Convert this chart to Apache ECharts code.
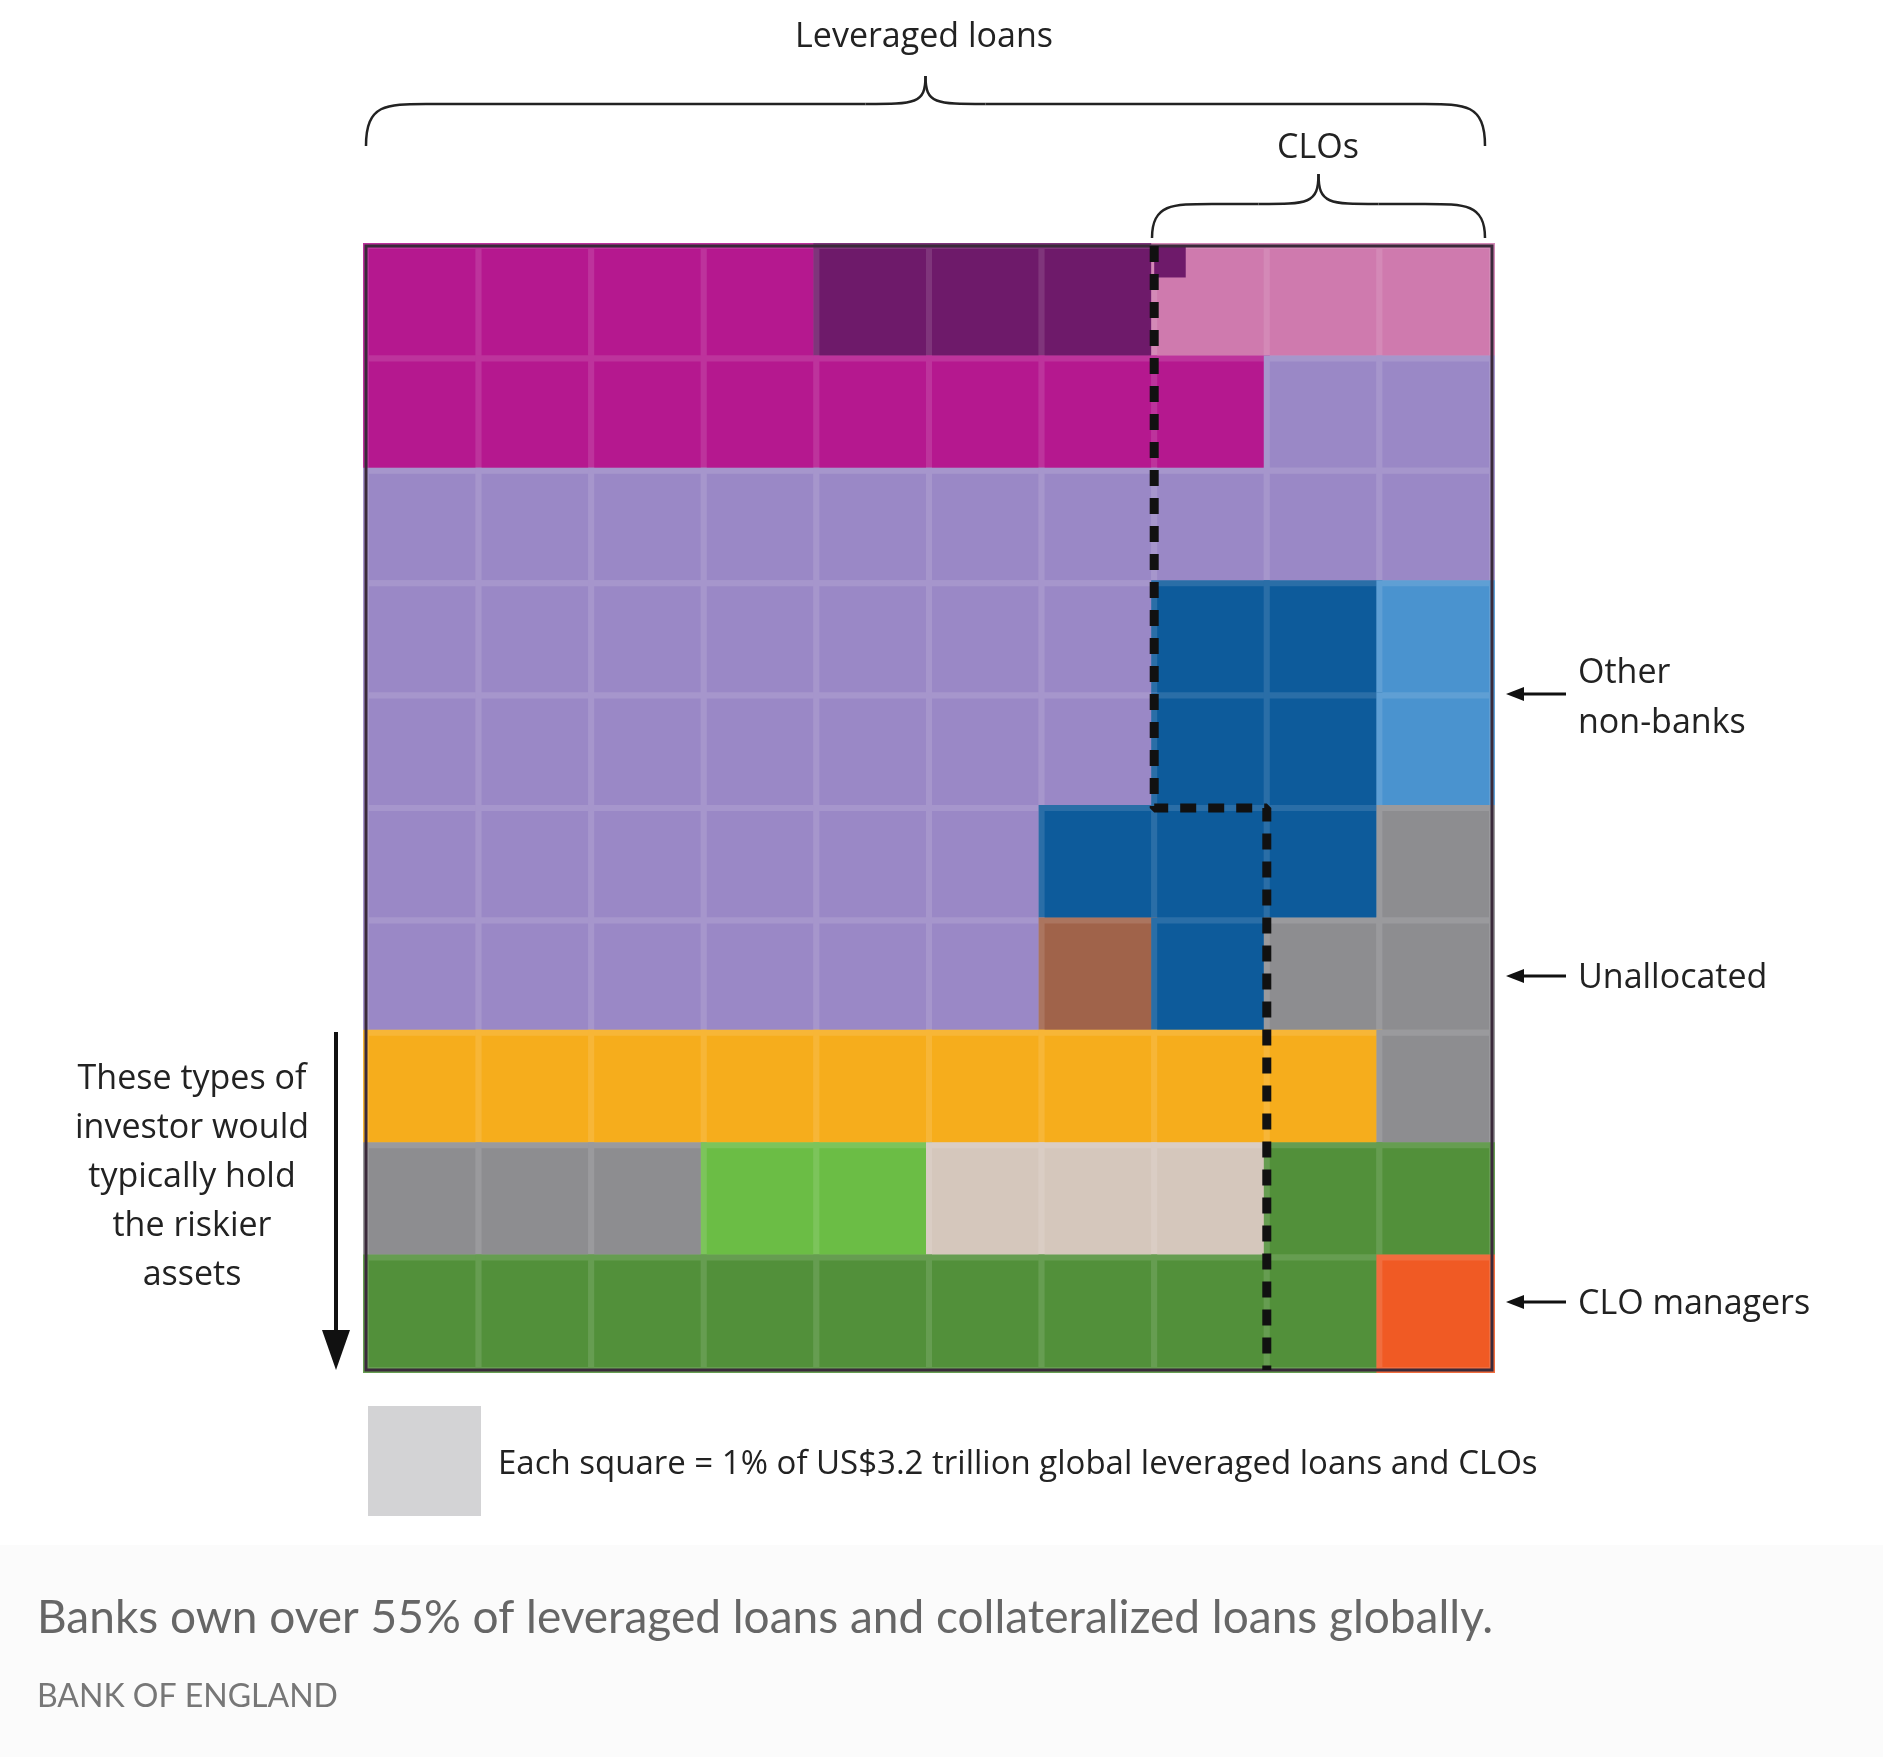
<!DOCTYPE html>
<html><head><meta charset="utf-8">
<script src="https://cdn.jsdelivr.net/npm/echarts@6/dist/echarts.min.js"></script>
<style>html,body{margin:0;padding:0;background:#fff}#c{width:1883px;height:1757px}</style>
</head><body><div id="c"></div>
<script>
// Groups and colours
const groups = {
  eu:'#b5188f', uk:'#6e1a6a', jp:'#cf7aae', us:'#9a88c6', ins:'#0d5b9b', onb:'#4a93cf',
  un:'#8d8d90', etf:'#a0634a', oef:'#f6ad1c', sma:'#6bbd45', cef:'#d5c7bc', hf:'#52903a', clo:'#f05a24'
};
// Grid rows (top to bottom), 10 cells each, each cell = 1%
const rows = [
  ['eu','eu','eu','eu','uk','uk','uk','jp','jp','jp'],
  ['eu','eu','eu','eu','eu','eu','eu','eu','us','us'],
  ['us','us','us','us','us','us','us','us','us','us'],
  ['us','us','us','us','us','us','us','ins','ins','onb'],
  ['us','us','us','us','us','us','us','ins','ins','onb'],
  ['us','us','us','us','us','us','ins','ins','ins','un'],
  ['us','us','us','us','us','us','etf','ins','un','un'],
  ['oef','oef','oef','oef','oef','oef','oef','oef','oef','un'],
  ['un','un','un','sma','sma','cef','cef','cef','hf','hf'],
  ['hf','hf','hf','hf','hf','hf','hf','hf','hf','clo']
];
const partialCells = [[7,0,'uk',0.28]];
const labels = [
  ['European banks',2.45,1.04],['UK banks',5.5,0.48],['Japanese\nbanks',8.45,0.5],
  ['US and other\nglobal banks',8.5,2.4],['US and other global banks',3.0,4.4],
  ['Insurers',8.0,3.97],['Insurers',6.95,5.53],['ETFs',6.46,6.48],
  ['Open-ended funds',4.1,7.5],['Unallocated',1.5,8.47],['SMAs',4.0,8.47],
  ['Closed-ended\nfunds',6.48,8.45],['Hedge funds',4.04,9.43]
];
const cloBoundary = [[7,0],[7,5],[8,5],[8,10]];

const cells = [];
rows.forEach((r,ri)=>r.forEach((g,ci)=>cells.push([ci,ri,g,1])));
partialCells.forEach(p=>cells.push(p));

const chart = echarts.init(document.getElementById('c'));
const GL=366, GT=246, GW=1126, GH=1124;
const st={fill:'none',stroke:'#222',lineWidth:2.5};
const brace=(x1,x2,yb,ym,yt)=>{const xm=(x1+x2)/2;return [
  {type:'bezierCurve',shape:{x1:x1,y1:yb,cpx1:x1,cpy1:ym,cpx2:x1+20,cpy2:ym,x2:x1+60,y2:ym},style:st},
  {type:'line',shape:{x1:x1+60,y1:ym,x2:xm-60,y2:ym},style:st},
  {type:'bezierCurve',shape:{x1:xm-60,y1:ym,cpx1:xm-10,cpy1:ym,cpx2:xm,cpy2:ym,x2:xm,y2:yt},style:st},
  {type:'bezierCurve',shape:{x1:xm,y1:yt,cpx1:xm,cpy1:ym,cpx2:xm+10,cpy2:ym,x2:xm+60,y2:ym},style:st},
  {type:'line',shape:{x1:xm+60,y1:ym,x2:x2-60,y2:ym},style:st},
  {type:'bezierCurve',shape:{x1:x2-60,y1:ym,cpx1:x2-20,cpy1:ym,cpx2:x2,cpy2:ym,x2:x2,y2:yb},style:st}
];};
const txt=(x,y,t,o)=>({type:'text',x,y,style:Object.assign({text:t,fill:'#222',font:'34px "Open Sans"',align:'left',verticalAlign:'middle'},o||{})});
const arrowL=(x1,x2,y)=>[{type:'line',shape:{x1:x1+14,y1:y,x2:x2,y2:y},style:{stroke:'#111',lineWidth:3}},
  {type:'polygon',shape:{points:[[x1,y],[x1+18,y-7],[x1+18,y+7]]},style:{fill:'#111'}}];
chart.setOption({
  animation:false,
  backgroundColor:'#fff',
  grid:{left:GL,top:GT,width:GW,height:GH},
  xAxis:{type:'value',min:0,max:10,show:false},
  yAxis:{type:'value',min:0,max:10,inverse:true,show:false},
  series:[
    {type:'custom',data:cells.map(c=>[c[0],c[1],c[3]]),renderItem:(p,api)=>{
      const c=api.value(0),r=api.value(1),f=api.value(2);const col=groups[cells[p.dataIndex][2]];
      const a=api.coord([c,r]),b=api.coord([c+f,r+f]);
      return {type:'rect',shape:{x:a[0],y:a[1],width:b[0]-a[0],height:b[1]-a[1]},
        style:{fill:col,stroke:echarts.color.lift(col,0.12),lineWidth:f<1?0:6}};
    },z:1},
    {type:'custom',data:[[0,0]],renderItem:(p,api)=>{const a=api.coord([0,0]),b=api.coord([10,10]);
      return {type:'rect',shape:{x:a[0],y:a[1],width:b[0]-a[0],height:b[1]-a[1]},style:{fill:'none',stroke:'#3a2a3a',lineWidth:3}};},z:2},
    {type:'line',data:cloBoundary,symbol:'none',lineStyle:{color:'#111',width:9,type:[16,12],cap:'butt'},z:3},
    {type:'scatter',symbolSize:1,itemStyle:{opacity:0},z:4,
      data:labels.map(l=>({name:l[0],value:[l[1],l[2]]})),
      label:{show:true,position:'inside',formatter:'{b}',color:'#fff',fontSize:33,fontWeight:600,fontFamily:'Open Sans',lineHeight:56,
        textShadowColor:'rgba(0,0,0,0.35)',textShadowBlur:3}}
  ],
  graphic:[
    ...brace(366,1485,146,104,76),
    ...brace(1152,1485,238,204,174),
    txt(924,37,'Leveraged loans',{align:'center'}),
    txt(1318,148,'CLOs',{align:'center'}),
    ...arrowL(1506,1566,694), txt(1578,698,'Other\nnon-banks',{lineHeight:50}),
    ...arrowL(1506,1566,976), txt(1578,978,'Unallocated'),
    ...arrowL(1506,1566,1302), txt(1578,1304,'CLO managers'),
    txt(192,1177,'These types of\ninvestor would\ntypically hold\nthe riskier\nassets',{align:'center',lineHeight:49}),
    {type:'line',shape:{x1:336,y1:1032,x2:336,y2:1340},style:{stroke:'#111',lineWidth:4}},
    {type:'polygon',shape:{points:[[322,1330],[350,1330],[336,1370]]},style:{fill:'#111'}},
    {type:'rect',shape:{x:368,y:1406,width:113,height:110},style:{fill:'#d3d3d5'}},
    txt(498,1465,'Each square = 1% of US$3.2 trillion global leveraged loans and CLOs',{font:'33px "Open Sans"'}),
    {type:'rect',z:-1,shape:{x:0,y:1545,width:1883,height:212},style:{fill:'#fbfbfb'}},
    txt(37,1618,'Banks own over 55% of leveraged loans and collateralized loans globally.',{fill:'#666',font:'46px Lato'}),
    txt(37,1697,'BANK OF ENGLAND',{fill:'#777',font:'32px Lato'})
  ]
});
</script></body></html>
